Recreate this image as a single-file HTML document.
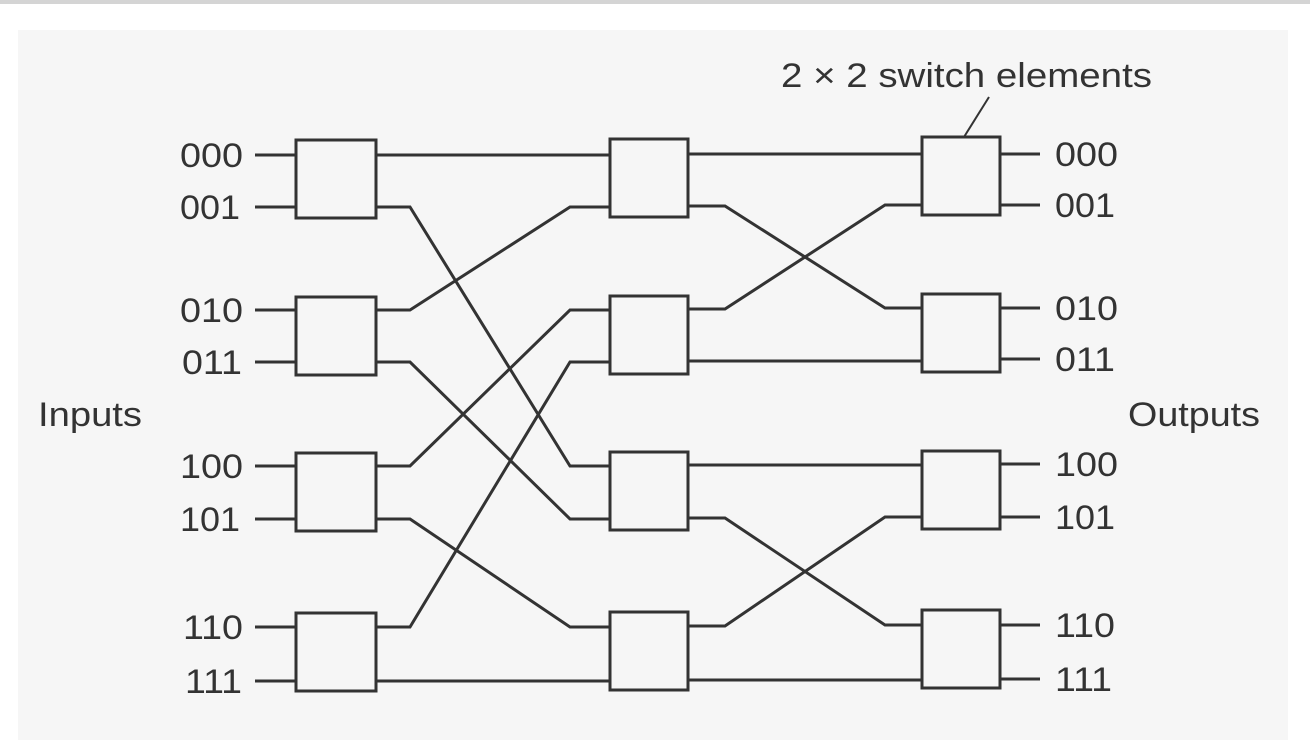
<!DOCTYPE html>
<html><head><meta charset="utf-8"><style>
html,body{margin:0;padding:0;background:#fff;width:1310px;height:754px;overflow:hidden}
svg{display:block}
text{font-family:"Liberation Sans",Arial,sans-serif;fill:#333}
</style></head><body>
<svg width="1310" height="754" viewBox="0 0 1310 754" xmlns="http://www.w3.org/2000/svg">
<rect x="0" y="0" width="1310" height="4" fill="#d4d4d4"/>
<rect x="18" y="30" width="1270" height="710" fill="#f6f6f6"/>
<g stroke="#333" stroke-width="3" fill="none">
<rect x="296" y="140" width="80" height="78"/>
<rect x="296" y="297" width="80" height="78"/>
<rect x="296" y="453" width="80" height="78"/>
<rect x="296" y="613" width="80" height="78"/>
<rect x="610" y="139" width="78" height="78"/>
<rect x="610" y="296" width="78" height="78"/>
<rect x="610" y="452" width="78" height="78"/>
<rect x="610" y="612" width="78" height="78"/>
<rect x="922" y="137" width="78" height="78"/>
<rect x="922" y="294" width="78" height="78"/>
<rect x="922" y="451" width="78" height="78"/>
<rect x="922" y="610" width="78" height="78"/>
<path d="M255 155H296M255 207H296M255 310H296M255 362H296M255 466H296M255 519H296M255 627H296M255 681H296"/>
<path d="M1000 154H1040M1000 205H1040M1000 308H1040M1000 359H1040M1000 464H1040M1000 517H1040M1000 625H1040M1000 679H1040"/>
<path d="M376 155H610"/>
<path d="M376 207H410L570 466H610"/>
<path d="M376 310H410L570 207H610"/>
<path d="M376 362H410L570 519H610"/>
<path d="M376 466H410L570 310H610"/>
<path d="M376 519H410L570 627H610"/>
<path d="M376 627H410L570 362H610"/>
<path d="M376 681H610"/>
<path d="M688 154H922"/>
<path d="M688 206H725L885 308H922"/>
<path d="M688 309H725L885 205H922"/>
<path d="M688 361H922"/>
<path d="M688 465H922"/>
<path d="M688 518H725L885 625H922"/>
<path d="M688 626H725L885 517H922"/>
<path d="M688 680H922"/>
<path d="M989 97L964 137" stroke-width="2"/>
</g>
<g font-size="34">
<text x="180" y="167" textLength="63" lengthAdjust="spacingAndGlyphs">000</text>
<text x="180" y="219" textLength="60" lengthAdjust="spacingAndGlyphs">001</text>
<text x="180" y="322" textLength="63" lengthAdjust="spacingAndGlyphs">010</text>
<text x="182" y="374" textLength="60" lengthAdjust="spacingAndGlyphs">011</text>
<text x="180" y="478" textLength="63" lengthAdjust="spacingAndGlyphs">100</text>
<text x="180" y="531" textLength="60" lengthAdjust="spacingAndGlyphs">101</text>
<text x="183" y="639" textLength="60" lengthAdjust="spacingAndGlyphs">110</text>
<text x="185" y="693" textLength="57" lengthAdjust="spacingAndGlyphs">111</text>
<text x="1055" y="166" textLength="63" lengthAdjust="spacingAndGlyphs">000</text>
<text x="1055" y="217" textLength="60" lengthAdjust="spacingAndGlyphs">001</text>
<text x="1055" y="320" textLength="63" lengthAdjust="spacingAndGlyphs">010</text>
<text x="1055" y="371" textLength="60" lengthAdjust="spacingAndGlyphs">011</text>
<text x="1055" y="476" textLength="63" lengthAdjust="spacingAndGlyphs">100</text>
<text x="1055" y="529" textLength="60" lengthAdjust="spacingAndGlyphs">101</text>
<text x="1055" y="637" textLength="60" lengthAdjust="spacingAndGlyphs">110</text>
<text x="1055" y="691" textLength="57" lengthAdjust="spacingAndGlyphs">111</text>
<text x="38" y="426" textLength="104" lengthAdjust="spacingAndGlyphs">Inputs</text>
<text x="1128" y="426" textLength="132" lengthAdjust="spacingAndGlyphs">Outputs</text>
<text x="781" y="87" textLength="371" lengthAdjust="spacingAndGlyphs">2 × 2 switch elements</text>
</g>
</svg>
</body></html>
